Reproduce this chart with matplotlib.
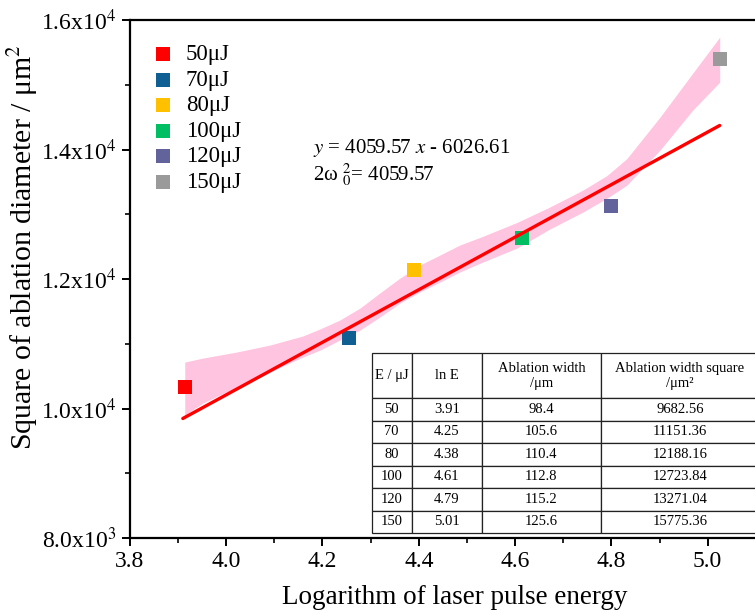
import matplotlib
matplotlib.use("Agg")
import matplotlib.pyplot as plt
import numpy as np
from matplotlib.ticker import FuncFormatter, MultipleLocator

plt.rcParams['font.family'] = ['Liberation Serif', 'DejaVu Serif']
plt.rcParams['mathtext.fontset'] = 'stix'

labels = ['50μJ', '70μJ', '80μJ', '100μJ', '120μJ', '150μJ']
ln_e = [3.914, 4.255, 4.39, 4.615, 4.80, 5.025]
abl_sq = [10330, 11090, 12140, 12630, 13130, 15400]
colors = ['#ff0000', '#0f5f93', '#ffc000', '#00bf63', '#62639b', '#9a9a9a']

# linear fit
slope = 4059.57
intercept = -6026.61
fit_x = np.array([3.91, 5.025])

# confidence band edges
band_x = [3.914, 3.952, 4.022, 4.091, 4.159, 4.195, 4.236, 4.278, 4.319, 4.361, 4.402,
          4.444, 4.485, 4.533, 4.604, 4.672, 4.741, 4.791, 4.832, 4.901, 4.969, 5.025]
band_hi = [10718, 10780, 10873, 10981, 11120, 11230, 11367, 11552, 11784, 12015, 12216,
           12371, 12525, 12660, 12875, 13112, 13375, 13600, 13860, 14502, 15181, 15737]
band_lo = [9900, 10085, 10332, 10564, 10795, 10903, 11058, 11212, 11413, 11629, 11799,
           11954, 12108, 12263, 12479, 12772, 13035, 13250, 13450, 13992, 14610, 15042]

# inset table
tab_head = ['E / μJ', 'ln E', 'Ablation width\n/μm', 'Ablation width square\n/μm²']
tab_e = ['50', '70', '80', '100', '120', '150']
tab_ln = ['3.91', '4.25', '4.38', '4.61', '4.79', '5.01']
tab_w = ['98.4', '105.6', '110.4', '112.8', '115.2', '125.6']
tab_sq = ['9682.56', '11151.36', '12188.16', '12723.84', '13271.04', '15775.36']

fig = plt.figure(figsize=(7.55, 6.10), dpi=100)
ax = fig.add_axes([0.172, 0.118, 0.861, 0.849])

ax.fill_between(band_x, band_lo, band_hi, color='#ffc4df', lw=0, zorder=1)
for x, y, c, lab in zip(ln_e, abl_sq, colors, labels):
    ax.scatter(x, y, marker='s', s=110, color=c, label=lab, zorder=2.5, linewidths=0)
ax.plot(fit_x, slope * fit_x + intercept, color='#ff0000', lw=2.4, zorder=3,
        solid_capstyle='round')

ax.set_xlim(3.8, 5.15)
ax.set_ylim(8000, 16000)
ax.xaxis.set_major_locator(MultipleLocator(0.2))
ax.xaxis.set_minor_locator(MultipleLocator(0.1))
ax.yaxis.set_major_locator(MultipleLocator(2000))
ax.yaxis.set_minor_locator(MultipleLocator(1000))


def sci_fmt(v, pos):
    if v == 0:
        return '0'
    e = int(np.floor(np.log10(abs(v))))
    m = v / 10 ** e
    return f'{m:.1f}x10$^{{{e}}}$'


ax.yaxis.set_major_formatter(FuncFormatter(sci_fmt))
ax.xaxis.set_major_formatter(FuncFormatter(lambda v, p: f'{v:.1f}'))
ax.tick_params(which='major', direction='out', length=6, width=1.4, labelsize=17)
ax.tick_params(which='minor', direction='out', length=3.5, width=1.2)
for s in ax.spines.values():
    s.set_linewidth(1.6)

ax.set_xlabel('Logarithm of laser pulse energy', fontsize=19.5, labelpad=9)
ax.set_ylabel('Square of ablation diameter / μm$^2$', fontsize=21.5)
ax.yaxis.set_label_coords(-0.139, 0.562)

ax.legend(loc='upper left', bbox_to_anchor=(0.01, 0.985), frameon=False, fontsize=16.5,
          handletextpad=0.55, labelspacing=0.2, borderaxespad=0.3, handlelength=0.9)

ax.text(4.18, 14030, '$y$ = 4059.57 $x$ - 6026.61', fontsize=15, va='center')
ax.text(4.18, 13620, '2ω $^{2}_{0}$= 4059.57', fontsize=15, va='center')

cells = [list(r) for r in zip(tab_e, tab_ln, tab_w, tab_sq)]
col_w = [40, 70, 119, 158]
tot = sum(col_w)
tbl = ax.table(cellText=cells, colLabels=tab_head, cellLoc='center',
               colWidths=[w / tot for w in col_w],
               bbox=[0.372, 0.0097, 0.596, 0.347], zorder=5)
tbl.auto_set_font_size(False)
tbl.set_fontsize(10.5)
for (r, c), cell in tbl.get_celld().items():
    cell.set_height(0.1 if r == 0 else 0.05)
    cell.set_edgecolor('#222222')
    cell.set_linewidth(0.9)
    cell.set_facecolor('white')

fig.savefig('out.png', dpi=100)
